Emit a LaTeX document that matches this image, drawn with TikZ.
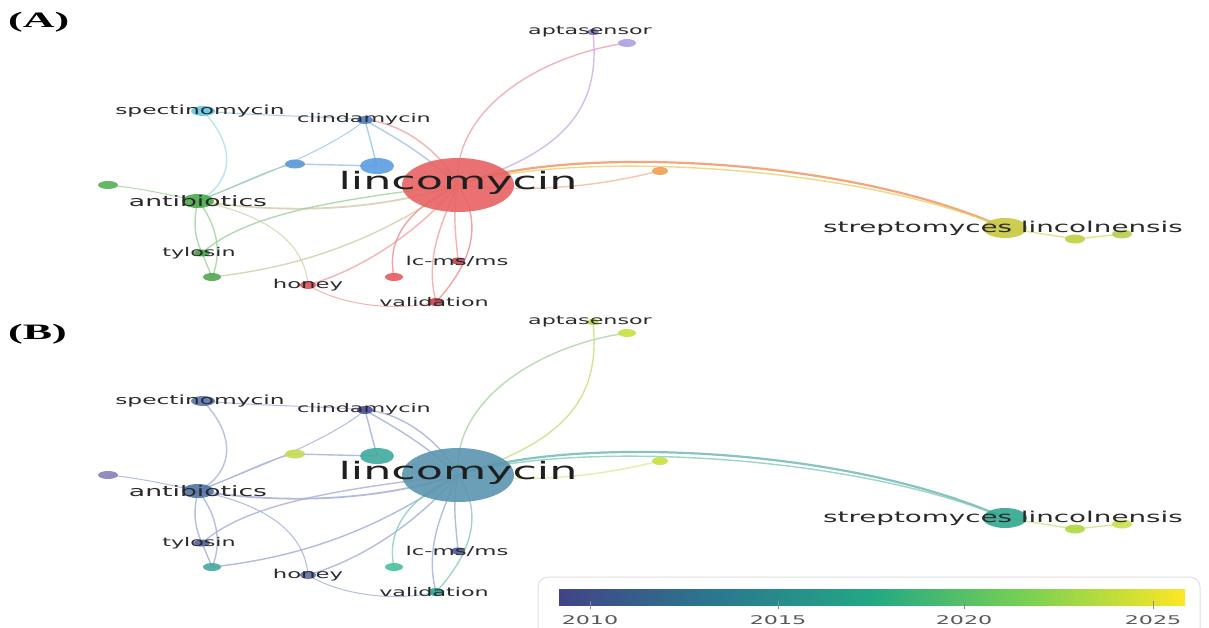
\documentclass[tikz,border=0pt]{standalone}
\usepackage{fontspec}
\usepackage{graphicx}
\setmainfont{DejaVu Sans}
\newfontfamily\serifbf{Liberation Serif}
\usetikzlibrary{shapes.geometric}

% node colours, panel A (clusters)
\definecolor{Alin}{HTML}{E86262}
\definecolor{Aapt}{HTML}{8A6CC0}
\definecolor{Aaptb}{HTML}{B0A0E0}
\definecolor{Aspe}{HTML}{62C8E0}
\definecolor{Acli}{HTML}{4F7FC0}
\definecolor{Asb}{HTML}{5A98D8}
\definecolor{Abb}{HTML}{5A9EE2}
\definecolor{Ags}{HTML}{58B058}
\definecolor{Aant}{HTML}{4CAA4C}
\definecolor{Atyl}{HTML}{40A040}
\definecolor{Agn}{HTML}{52A852}
\definecolor{Ahon}{HTML}{E05060}
\definecolor{Arn}{HTML}{E85A60}
\definecolor{Alcm}{HTML}{C04050}
\definecolor{Aval}{HTML}{C84050}
\definecolor{Aorg}{HTML}{F0A050}
\definecolor{Astr}{HTML}{C8C840}
\definecolor{Asa}{HTML}{C0D040}
\definecolor{Asc}{HTML}{B8CC50}
% edge colours, panel A
\definecolor{Aaptbe}{HTML}{F2A0A8}
\definecolor{Aapte}{HTML}{C8B0E0}
\definecolor{Astra}{HTML}{F0905A}
\definecolor{Astrb}{HTML}{E8D068}
\definecolor{Aorge}{HTML}{F8B898}
\definecolor{Ablue}{HTML}{9CC0E8}
\definecolor{Acyan}{HTML}{A8E0EC}
\definecolor{Agreen}{HTML}{9CD49C}
\definecolor{Aolive}{HTML}{D0CCA8}
\definecolor{Ared}{HTML}{F4A0A0}
\definecolor{Aredb}{HTML}{F08C8C}
\definecolor{Ayel}{HTML}{D8E278}

% node colours, panel B (years)
\definecolor{Blin}{HTML}{5A95B0}
\definecolor{Bapt}{HTML}{B8D838}
\definecolor{Baptb}{HTML}{C8E040}
\definecolor{Bspe}{HTML}{5C75B0}
\definecolor{Bcli}{HTML}{4B4F9A}
\definecolor{Bsb}{HTML}{C8DC50}
\definecolor{Bbb}{HTML}{40AAA0}
\definecolor{Bgs}{HTML}{8880B8}
\definecolor{Bant}{HTML}{5272A8}
\definecolor{Btyl}{HTML}{50609C}
\definecolor{Bgn}{HTML}{48A8A0}
\definecolor{Bhon}{HTML}{6070A8}
\definecolor{Brn}{HTML}{48C0A0}
\definecolor{Blcm}{HTML}{4858A0}
\definecolor{Bval}{HTML}{30A090}
\definecolor{Borg}{HTML}{C8E040}
\definecolor{Bstr}{HTML}{30A890}
\definecolor{Bsa}{HTML}{B0D840}
\definecolor{Bsc}{HTML}{C8E050}
% edge colours, panel B
\definecolor{Baptbe}{HTML}{A8D4A0}
\definecolor{Bapte}{HTML}{C4E07C}
\definecolor{Bstra}{HTML}{6AB4B4}
\definecolor{Bstrb}{HTML}{88C8B8}
\definecolor{Borge}{HTML}{D8EC98}
\definecolor{Bblue}{HTML}{A0ACDA}
\definecolor{Bcyan}{HTML}{A8B2DC}
\definecolor{Bgreen}{HTML}{A4AEDA}
\definecolor{Bolive}{HTML}{9EAAD8}
\definecolor{Bred}{HTML}{A0AED8}
\definecolor{Bredb}{HTML}{88CCB8}
\definecolor{Byel}{HTML}{CCE480}

\definecolor{labgray}{HTML}{2A2A2A}
\definecolor{vA}{HTML}{414487}
\definecolor{vB}{HTML}{2A788E}
\definecolor{vC}{HTML}{22A884}
\definecolor{vD}{HTML}{7AD151}
\definecolor{vE}{HTML}{FDE725}

\pgfdeclarehorizontalshading{viridis}{100bp}{color(0bp)=(vA); color(25bp)=(vA); color(37.5bp)=(vB); color(50bp)=(vC); color(62.5bp)=(vD); color(75bp)=(vE); color(100bp)=(vE)}

\newcommand\lbl[2]{\scalebox{1.85}[1]{\fontsize{#1}{#1}\selectfont #2}}

\tikzset{
  edge/.style={line width=1.4pt, draw opacity=0.8},
  dot/.style={ellipse, inner sep=0pt, draw=none, fill opacity=0.9},
  lab/.style={inner sep=0pt, text=labgray},
}

\newcommand\network[1]{%
  \coordinate (#1lin) at (458,185);
  \coordinate (#1apt) at (593,32);
  \coordinate (#1aptb) at (627,43);
  \coordinate (#1spe) at (203,111);
  \coordinate (#1cli) at (365,120);
  \coordinate (#1sb) at (295,164);
  \coordinate (#1bb) at (377,166);
  \coordinate (#1gs) at (108,185);
  \coordinate (#1ant) at (198,201);
  \coordinate (#1tyl) at (202,253);
  \coordinate (#1gn) at (212,277);
  \coordinate (#1hon) at (308,285);
  \coordinate (#1rn) at (394,277);
  \coordinate (#1lcm) at (458,261);
  \coordinate (#1val) at (436,302);
  \coordinate (#1org) at (660,171);
  \coordinate (#1str) at (1005,228);
  \coordinate (#1sa) at (1075,239);
  \coordinate (#1sc) at (1122,234);
  % connectors
  \draw[edge, draw=#1aptbe] (#1lin) .. controls (452,110) and (540,55) .. (#1aptb);
  \draw[edge, draw=#1apte] (#1apt) .. controls (600,100) and (575,150) .. (#1lin);
  \draw[edge, draw=#1stra, line width=2.2pt] (#1lin) .. controls (560,146) and (840,154) .. (#1str);
  \draw[edge, draw=#1strb] (#1lin) .. controls (560,152) and (840,160) .. (#1str);
  \draw[edge, draw=#1orge] (#1lin) .. controls (560,195) and (620,180) .. (#1org);
  \draw[edge, draw=#1blue] (#1cli) .. controls (390,135) and (420,150) .. (#1lin);
  \draw[edge, draw=#1blue] (#1cli) -- (#1bb);
  \draw[edge, draw=#1red] (#1cli) .. controls (400,122) and (440,150) .. (#1lin);
  \draw[edge, draw=#1blue, line width=1pt] (#1spe) .. controls (260,116) and (320,116) .. (#1cli);
  \draw[edge, draw=#1blue] (#1sb) -- (#1bb);
  \draw[edge, draw=#1blue, line width=1pt] (#1cli) .. controls (330,150) and (250,180) .. (#1ant);
  \draw[edge, draw=#1green, line width=1pt] (#1ant) .. controls (240,185) and (270,168) .. (#1sb);
  \draw[edge, draw=#1cyan] (#1spe) .. controls (240,150) and (230,185) .. (#1ant);
  \draw[edge, draw=#1green, line width=1pt] (#1gs) .. controls (140,188) and (170,195) .. (#1ant);
  \draw[edge, draw=#1olive, line width=1.8pt] (#1ant) .. controls (290,215) and (380,210) .. (#1lin);
  \draw[edge, draw=#1green] (#1ant) .. controls (192,225) and (196,240) .. (#1tyl);
  \draw[edge, draw=#1green] (#1ant) .. controls (218,225) and (222,255) .. (#1gn);
  \draw[edge, draw=#1green] (#1tyl) -- (#1gn);
  \draw[edge, draw=#1olive] (#1gn) .. controls (320,265) and (390,230) .. (#1lin);
  \draw[edge, draw=#1green] (#1tyl) .. controls (245,215) and (330,200) .. (#1lin);
  \draw[edge, draw=#1olive, line width=1pt] (#1ant) .. controls (270,215) and (305,245) .. (#1hon);
  \draw[edge, draw=#1red] (#1hon) .. controls (360,270) and (415,235) .. (#1lin);
  \draw[edge, draw=#1redb] (#1rn) .. controls (385,235) and (415,205) .. (#1lin);
  \draw[edge, draw=#1red] (#1lcm) .. controls (456,235) and (452,215) .. (#1lin);
  \draw[edge, draw=#1red] (#1val) .. controls (425,260) and (440,225) .. (#1lin);
  \draw[edge, draw=#1redb] (#1val) .. controls (470,265) and (485,225) .. (#1lin);
  \draw[edge, draw=#1red, line width=1pt] (#1hon) .. controls (340,305) and (395,312) .. (#1val);
  \draw[edge, draw=#1yel] (#1str) -- (#1sa);
  \draw[edge, draw=#1yel] (#1sa) -- (#1sc);
  % nodes
  \node[dot, minimum width=112pt, minimum height=54pt, fill=#1lin] (#1linN) at (#1lin) {};
  \node[dot, minimum width=12pt, minimum height=6pt, fill=#1apt] (#1aptN) at (#1apt) {};
  \node[dot, minimum width=18pt, minimum height=8pt, fill=#1aptb] (#1aptbN) at (#1aptb) {};
  \node[dot, minimum width=24pt, minimum height=10pt, fill=#1spe] (#1speN) at (#1spe) {};
  \node[dot, minimum width=16pt, minimum height=8pt, fill=#1cli] (#1cliN) at (#1cli) {};
  \node[dot, minimum width=20pt, minimum height=9pt, fill=#1sb] (#1sbN) at (#1sb) {};
  \node[dot, minimum width=34pt, minimum height=16pt, fill=#1bb] (#1bbN) at (#1bb) {};
  \node[dot, minimum width=20pt, minimum height=8pt, fill=#1gs] (#1gsN) at (#1gs) {};
  \node[dot, minimum width=32pt, minimum height=14pt, fill=#1ant] (#1antN) at (#1ant) {};
  \node[dot, minimum width=16pt, minimum height=7pt, fill=#1tyl] (#1tylN) at (#1tyl) {};
  \node[dot, minimum width=18pt, minimum height=8pt, fill=#1gn] (#1gnN) at (#1gn) {};
  \node[dot, minimum width=16pt, minimum height=8pt, fill=#1hon] (#1honN) at (#1hon) {};
  \node[dot, minimum width=18pt, minimum height=8pt, fill=#1rn] (#1rnN) at (#1rn) {};
  \node[dot, minimum width=14pt, minimum height=7pt, fill=#1lcm] (#1lcmN) at (#1lcm) {};
  \node[dot, minimum width=16pt, minimum height=8pt, fill=#1val] (#1valN) at (#1val) {};
  \node[dot, minimum width=16pt, minimum height=8pt, fill=#1org] (#1orgN) at (#1org) {};
  \node[dot, minimum width=44pt, minimum height=20pt, fill=#1str] (#1strN) at (#1str) {};
  \node[dot, minimum width=20pt, minimum height=9pt, fill=#1sa] (#1saN) at (#1sa) {};
  \node[dot, minimum width=20pt, minimum height=9pt, fill=#1sc] (#1scN) at (#1sc) {};
  % labels
  \node[lab, text=black!88] (#1linL) at (458,183) {\lbl{24}{lincomycin}};
  \node[lab] (#1aptL) at (590,32) {\lbl{12}{aptasensor}};
  \node[lab] (#1speL) at (200,111) {\lbl{12.6}{spectinomycin}};
  \node[lab] (#1cliL) at (364,119) {\lbl{12}{clindamycin}};
  \node[lab] (#1antL) at (198,201) {\lbl{14.4}{antibiotics}};
  \node[lab] (#1tylL) at (199,253) {\lbl{12}{tylosin}};
  \node[lab] (#1honL) at (308,285) {\lbl{12.3}{honey}};
  \node[lab] (#1lcmL) at (457,261) {\lbl{12.3}{lc-ms/ms}};
  \node[lab] (#1valL) at (434,302) {\lbl{12}{validation}};
  \node[lab] (#1strL) at (1003,228) {\lbl{15}{streptomyces lincolnensis}};
}

\begin{document}
\begin{tikzpicture}[x=1pt, y=-1pt]
\useasboundingbox (0,0) rectangle (1209,628);
\fill[white] (0,0) rectangle (1209,628);

\node[anchor=west, inner sep=0pt] (panelA) at (8,22) {\scalebox{2}[1]{\fontsize{22}{22}\selectfont\serifbf\bfseries (A)}};
\network{A}

\node[anchor=west, inner sep=0pt] (panelB) at (8,334) {\scalebox{2}[1]{\fontsize{22}{22}\selectfont\serifbf\bfseries (B)}};
\begin{scope}[shift={(0,290)}]
\network{B}
\end{scope}

% colour bar
\draw[black!12, line width=1pt, rounded corners=10pt] (538,577) rectangle (1200,645);
\shade[shading=viridis] (559,589) rectangle (1185,605);
\foreach \xx/\yy in {590/2010, 778/2015, 964/2020, 1153/2025} {
  \draw[black!45, line width=0.6pt] (\xx,601) -- (\xx,609);
  \node[lab, text=black!65] (tick\yy) at (\xx,620) {\lbl{12}{\yy}};
}
\end{tikzpicture}
\end{document}
